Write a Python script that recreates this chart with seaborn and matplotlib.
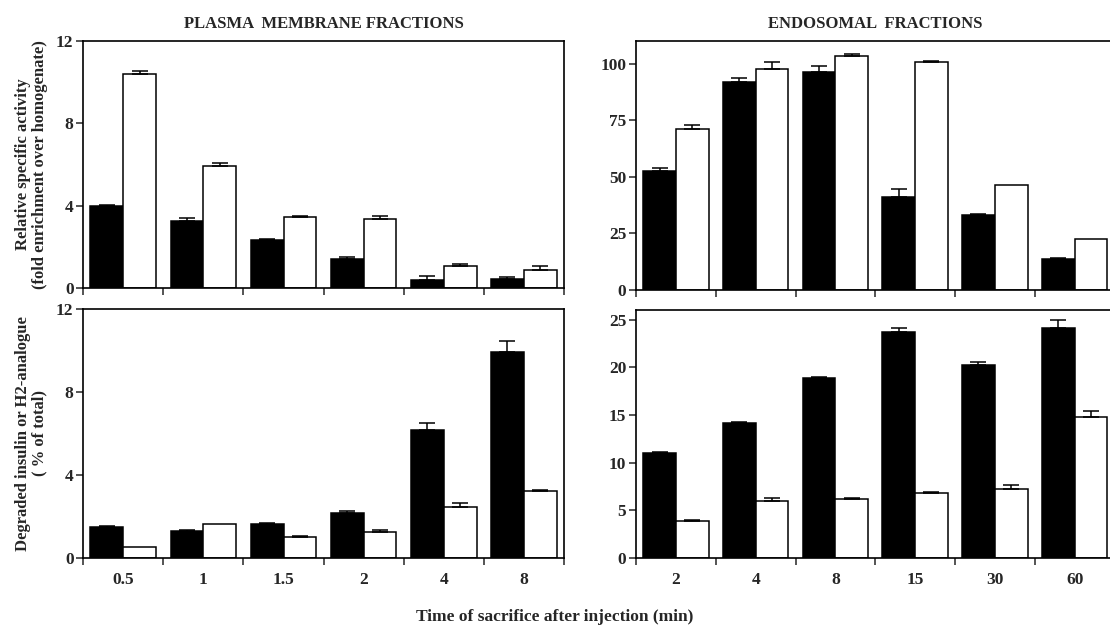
import matplotlib
matplotlib.use("Agg")
import matplotlib.pyplot as plt
import seaborn as sns
import pandas as pd
import numpy as np

# x categories (min after injection)
pm_times = ["0.5", "1", "1.5", "2", "4", "8"]
en_times = ["2", "4", "8", "15", "30", "60"]

# relative specific activity - plasma membrane
pm_act_black = [4.0, 3.24, 2.32, 1.39, 0.39, 0.45]
pm_act_black_err = [0.05, 0.15, 0.08, 0.13, 0.21, 0.08]
pm_act_white = [10.4, 5.92, 3.45, 3.35, 1.05, 0.87]
pm_act_white_err = [0.15, 0.16, 0.05, 0.15, 0.14, 0.18]

# relative specific activity - endosomes
en_act_black = [52.5, 91.8, 96.3, 40.9, 33.1, 13.5]
en_act_black_err = [1.5, 2.0, 2.7, 3.8, 0.6, 0.4]
en_act_white = [71.3, 97.4, 103.2, 100.6, 46.5, 22.5]
en_act_white_err = [1.6, 3.3, 0.8, 0.6, 0.0, 0.0]

# degraded ligand - plasma membrane
pm_deg_black = [1.48, 1.29, 1.65, 2.18, 6.14, 9.93]
pm_deg_black_err = [0.06, 0.04, 0.05, 0.07, 0.36, 0.51]
pm_deg_white = [0.53, 1.62, 1.01, 1.25, 2.46, 3.23]
pm_deg_white_err = [0.0, 0.0, 0.05, 0.08, 0.19, 0.06]

# degraded ligand - endosomes
en_deg_black = [11.0, 14.16, 18.88, 23.7, 20.24, 24.13]
en_deg_black_err = [0.1, 0.11, 0.12, 0.46, 0.32, 0.84]
en_deg_white = [3.88, 6.01, 6.15, 6.82, 7.27, 14.76]
en_deg_white_err = [0.11, 0.32, 0.15, 0.14, 0.39, 0.69]


def panel(ax, times, black, black_err, white, white_err, ylim, yticks, show_labels):
    df = pd.DataFrame({
        "time": times + times,
        "val": black + white,
        "kind": ["insulin"] * len(times) + ["analogue"] * len(times),
    })
    sns.barplot(data=df, x="time", y="val", hue="kind", order=times,
                hue_order=["insulin", "analogue"],
                palette={"insulin": "black", "analogue": "white"},
                edgecolor="black", linewidth=1.1, width=0.82,
                legend=False, ax=ax, errorbar=None)
    for cont, err in zip(ax.containers, [black_err, white_err]):
        xs = [b.get_x() + b.get_width() / 2 for b in cont]
        hs = [b.get_height() for b in cont]
        e = np.array(err)
        m = e > 0
        ax.errorbar(np.array(xs)[m], np.array(hs)[m],
                    yerr=[np.zeros(m.sum()), e[m]], fmt="none",
                    ecolor="black", elinewidth=1.1, capsize=6, capthick=1.1)
    ax.set_xlim(-0.5, len(times) - 0.5)
    ax.set_ylim(*ylim)
    ax.set_yticks(yticks)
    ax.set_xlabel("")
    ax.set_ylabel("")
    ax.set_xticks(np.arange(len(times) + 1) - 0.5, minor=True)
    ax.tick_params(axis="x", which="minor", length=5, width=1.1, direction="out")
    ax.set_xticks(np.arange(len(times)))
    if show_labels:
        ax.set_xticklabels(times, fontsize=12.5, fontweight="bold")
    else:
        ax.set_xticklabels([])
    ax.tick_params(axis="x", which="major", length=0, pad=10)
    ax.tick_params(axis="y", length=5, width=1.1, labelsize=12.5, pad=2)
    for lab in ax.get_yticklabels():
        lab.set_fontweight("bold")
    for s in ax.spines.values():
        s.set_linewidth(1.2)
        s.set_color("black")


sns.set_style("ticks")
plt.rcParams['font.family'] = ['Liberation Serif', 'DejaVu Serif']
plt.rcParams['font.weight'] = 'bold'

fig = plt.figure(figsize=(11.1, 6.29), dpi=100)
ax1 = fig.add_axes([0.075, 0.542, 0.433, 0.393])
ax2 = fig.add_axes([0.573, 0.539, 0.431, 0.396])
ax3 = fig.add_axes([0.075, 0.113, 0.433, 0.396])
ax4 = fig.add_axes([0.573, 0.113, 0.431, 0.394])

panel(ax1, pm_times, pm_act_black, pm_act_black_err, pm_act_white, pm_act_white_err,
      (0, 12), [0, 4, 8, 12], False)
panel(ax2, en_times, en_act_black, en_act_black_err, en_act_white, en_act_white_err,
      (0, 110), [0, 25, 50, 75, 100], False)
panel(ax3, pm_times, pm_deg_black, pm_deg_black_err, pm_deg_white, pm_deg_white_err,
      (0, 12), [0, 4, 8, 12], True)
panel(ax4, en_times, en_deg_black, en_deg_black_err, en_deg_white, en_deg_white_err,
      (0, 26), [0, 5, 10, 15, 20, 25], True)

ax1.set_title("PLASMA  MEMBRANE FRACTIONS", fontsize=12, fontweight="bold", pad=9)
ax2.set_title("ENDOSOMAL  FRACTIONS", fontsize=12, fontweight="bold", pad=9)

ax1.set_ylabel("Relative specific activity\n(fold enrichment over homogenate)",
               fontsize=12, fontweight="bold", labelpad=6, linespacing=1.05)
ax3.set_ylabel("Degraded insulin or H2-analogue\n( % of total)",
               fontsize=12, fontweight="bold", labelpad=6, linespacing=1.05)
fig.align_ylabels([ax1, ax3])

fig.text(0.5, 0.012, "Time of sacrifice after injection (min)", ha="center",
         fontsize=12.5, fontweight="bold")

fig.savefig("out.png", dpi=100)
